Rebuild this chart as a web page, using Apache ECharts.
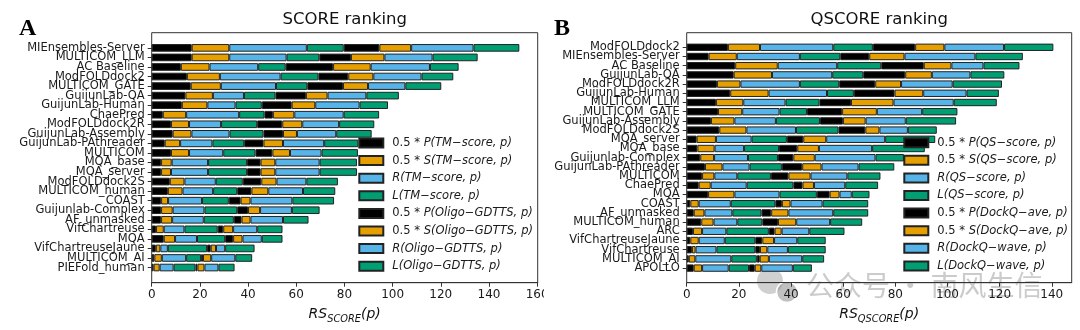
<!DOCTYPE html>
<html>
<head>
<meta charset="utf-8">
<script src="https://cdn.jsdelivr.net/npm/echarts@6/dist/echarts.min.js"></script>
<style>
  html, body { margin: 0; padding: 0; background: #fff; }
  #chart { width: 1080px; height: 330px; }
</style>
</head>
<body>
<div id="chart"></div>
<script>
// ---- Panel A: SCORE ranking (components per predictor) ----
const scoreModels = ['MIEnsembles-Server', 'MULTICOM_LLM', 'AC Baseline', 'ModFOLDdock2', 'MULTICOM_GATE',
  'GuijunLab-QA', 'GuijunLab-Human', 'ChaePred', 'ModFOLDdock2R', 'GuijunLab-Assembly', 'GuijunLab-PAthreader',
  'MULTICOM', 'MQA_base', 'MQA_server', 'ModFOLDdock2S', 'MULTICOM_human', 'COAST', 'Guijunlab-Complex',
  'AF_unmasked', 'VifChartreuse', 'MQA', 'VifChartreuseJaune', 'MULTICOM_AI', 'PIEFold_human'];
const scorePTm    = [16.6, 16.6, 12.1, 14.6, 16.2, 14.0, 12.5, 4.6, 8.0, 8.7, 5.4, 8.0, 3.9, 3.9, 7.5, 6.7, 3.9, 3.9, 3.9, 1.8, 5.0, 1.7, 1.1, 0.8];
const scoreSTm    = [15.6, 15.6, 11.9, 13.7, 12.5, 11.4, 10.6, 9.7, 7.5, 7.8, 6.4, 7.5, 4.4, 4.1, 6.1, 6.1, 2.9, 4.8, 4.6, 3.2, 4.7, 1.9, 3.1, 2.5];
const scoreRTm    = [32.2, 23.8, 20.2, 25.2, 22.9, 12.9, 11.7, 22.0, 13.3, 15.8, 13.4, 14.2, 15.1, 15.4, 13.0, 12.7, 14.1, 13.2, 13.1, 8.6, 9.1, 3.1, 10.1, 5.8];
const scoreLTm    = [15.3, 13.6, 11.4, 15.7, 13.0, 13.1, 10.9, 10.5, 15.0, 14.1, 13.2, 13.4, 16.2, 16.2, 11.2, 10.0, 11.1, 13.6, 12.5, 13.8, 11.7, 16.3, 6.2, 9.1];
const scorePOligo = [14.8, 13.1, 19.7, 12.4, 14.8, 12.6, 12.4, 3.5, 10.4, 8.1, 8.0, 7.0, 5.6, 5.6, 7.7, 5.9, 4.9, 4.5, 3.2, 2.3, 3.3, 1.5, 0.8, 0.8];
const scoreSOligo = [13.2, 13.9, 15.6, 10.4, 10.4, 9.0, 9.8, 8.9, 8.3, 5.8, 8.1, 7.3, 6.1, 6.1, 6.3, 7.0, 4.1, 5.0, 3.7, 4.1, 3.9, 2.2, 3.4, 2.9];
const scoreROligo = [25.9, 20.0, 24.6, 20.0, 15.5, 16.1, 18.4, 20.5, 15.3, 16.3, 17.1, 13.1, 18.4, 18.4, 12.4, 14.4, 17.4, 13.2, 13.5, 10.0, 8.0, 3.8, 10.0, 5.8];
const scoreLOligo = [19.0, 18.7, 11.9, 13.2, 14.9, 13.5, 11.8, 14.7, 14.6, 14.7, 14.2, 15.1, 15.5, 15.5, 13.1, 13.4, 17.3, 11.5, 10.6, 10.5, 8.6, 12.2, 7.0, 6.7];
const scoreLegend = ['0.5 * P(TM−score, p)', '0.5 * S(TM−score, p)', 'R(TM−score, p)', 'L(TM−score, p)',
  '0.5 * P(Oligo−GDTTS, p)', '0.5 * S(Oligo−GDTTS, p)', 'R(Oligo−GDTTS, p)', 'L(Oligo−GDTTS, p)'];
const scoreTicks = [0, 20, 40, 60, 80, 100, 120, 140, 160];

// ---- Panel B: QSCORE ranking ----
const qscoreModels = ['ModFOLDdock2', 'MIEnsembles-Server', 'AC Baseline', 'GuijunLab-QA', 'ModFOLDdock2R',
  'GuijunLab-Human', 'MULTICOM_LLM', 'MULTICOM_GATE', 'GuijunLab-Assembly', 'ModFOLDdock2S', 'MQA_server',
  'MQA_base', 'Guijunlab-Complex', 'GuijunLab-PAthreader', 'MULTICOM', 'ChaePred', 'MQA', 'COAST',
  'AF_unmasked', 'MULTICOM_human', 'ARC', 'VifChartreuseJaune', 'VifChartreuse', 'MULTICOM_AI', 'APOLLO'];
const qscorePQs    = [15.8, 8.4, 18.6, 18.0, 11.6, 16.7, 11.2, 12.0, 9.3, 12.5, 3.8, 4.1, 5.2, 7.0, 5.9, 4.6, 8.2, 1.4, 2.7, 5.6, 2.4, 1.4, 2.0, 0.8, 2.7];
const qscoreSQs    = [12.3, 10.8, 16.3, 14.7, 9.0, 14.7, 10.5, 9.3, 9.0, 10.4, 7.4, 6.6, 5.3, 6.7, 4.7, 4.6, 10.1, 3.2, 4.1, 4.7, 3.5, 3.2, 1.4, 2.5, 3.2];
const qscoreRQs    = [28.1, 24.2, 22.8, 23.1, 22.8, 22.4, 16.2, 14.3, 15.9, 19.0, 13.7, 11.3, 13.0, 10.4, 8.8, 13.8, 17.3, 12.3, 10.7, 9.1, 9.3, 10.0, 8.0, 13.8, 10.2];
const qscoreLQs    = [15.2, 15.5, 16.9, 11.9, 15.1, 10.3, 13.0, 10.5, 16.9, 16.3, 13.5, 13.4, 11.5, 12.4, 12.9, 17.9, 14.3, 17.1, 11.2, 9.6, 16.3, 11.7, 14.9, 9.8, 7.8];
const qscorePDockQ = [16.2, 11.1, 16.3, 16.1, 13.8, 15.6, 12.1, 13.5, 8.8, 10.3, 6.3, 7.0, 5.9, 7.8, 6.7, 3.5, 4.9, 2.5, 3.7, 6.0, 2.2, 2.7, 1.8, 1.1, 2.2];
const qscoreSDockQ = [11.2, 13.5, 10.6, 10.2, 9.9, 11.0, 16.3, 13.3, 8.7, 5.4, 8.8, 8.3, 8.2, 7.4, 8.5, 4.4, 3.8, 3.3, 6.6, 7.0, 2.7, 4.5, 2.8, 3.5, 2.5];
const qscoreRDockQ = [22.9, 27.2, 12.3, 14.8, 19.8, 16.6, 23.1, 17.4, 15.4, 10.9, 22.6, 20.4, 23.3, 14.2, 14.1, 12.0, 4.7, 12.3, 17.2, 13.0, 10.6, 8.9, 7.9, 12.8, 12.1];
const qscoreLDockQ = [18.9, 18.2, 13.8, 13.0, 18.9, 12.4, 16.5, 13.5, 19.3, 11.1, 19.2, 20.2, 10.9, 13.7, 12.7, 12.6, 6.8, 17.5, 13.4, 12.3, 13.5, 10.9, 14.5, 8.4, 7.3];
const qscoreLegend = ['0.5 * P(QS−score, p)', '0.5 * S(QS−score, p)', 'R(QS−score, p)', 'L(QS−score, p)',
  '0.5 * P(DockQ−ave, p)', '0.5 * S(DockQ−ave, p)', 'R(DockQ−wave, p)', 'L(DockQ−wave, p)'];
const qscoreTicks = [0, 20, 40, 60, 80, 100, 120, 140];

// ---- styling ----
const FONT = 'DejaVu Sans';
const INK = '#1a1a1a';
const SEG_COLORS = ['#000000', '#E69F00', '#56B4E9', '#009E73', '#000000', '#E69F00', '#56B4E9', '#009E73'];

const panels = [
  {
    models: scoreModels,
    parts: [scorePTm, scoreSTm, scoreRTm, scoreLTm, scorePOligo, scoreSOligo, scoreROligo, scoreLOligo],
    legend: scoreLegend, ticks: scoreTicks,
    left: 151.7, width: 386, barTop: 43.1, barHeight: 229.2,
    legendLeft: 358.3, legendTop: 136,
    title: 'SCORE ranking', sub: 'SCORE', letter: 'A', letterX: 19
  },
  {
    models: qscoreModels,
    parts: [qscorePQs, qscoreSQs, qscoreRQs, qscoreLQs, qscorePDockQ, qscoreSDockQ, qscoreRDockQ, qscoreLDockQ],
    legend: qscoreLegend, ticks: qscoreTicks,
    left: 686.7, width: 385, barTop: 42.7, barHeight: 230,
    legendLeft: 903.3, legendTop: 135.7,
    title: 'QSCORE ranking', sub: 'QSCORE', letter: 'B', letterX: 554
  }
];
const FRAME_TOP = 32.7, FRAME_H = 250;

const grid = [], xAxis = [], yAxis = [], series = [], legend = [], graphic = [];

function legendLabel(name) {
  if (name.startsWith('0.5 * ')) return '{u|0.5 * }{i|' + name.slice(6) + '}';
  return '{i|' + name + '}';
}

panels.forEach((p, k) => {
  // axis upper limit with 5% margin beyond the longest bar
  const totals = p.models.map((_, i) => p.parts.reduce((s, arr) => s + arr[i], 0));
  const xMax = Math.max(...totals) * 1.05;

  // frame grid carrying the value axis
  grid.push({ left: p.left, top: FRAME_TOP, width: p.width, height: FRAME_H,
    show: true, borderColor: '#333', borderWidth: 1, backgroundColor: 'transparent' });
  // inner grid carrying the bars and category axis
  grid.push({ left: p.left, top: p.barTop, width: p.width, height: p.barHeight });

  const fg = 2 * k, bg = 2 * k + 1;
  xAxis.push({
    gridIndex: fg, type: 'value', min: 0, max: xMax, interval: 20,
    axisLine: { show: true, lineStyle: { color: '#333', width: 1 } },
    axisTick: { show: true, length: 4, lineStyle: { color: '#333' } },
    axisLabel: { fontFamily: FONT, fontSize: 12, color: INK, margin: 6, showMaxLabel: false,
      formatter: v => (p.ticks.includes(v) ? String(v) : '') },
    splitLine: { show: false }
  });
  xAxis.push({ gridIndex: bg, type: 'value', min: 0, max: xMax, show: false });
  yAxis.push({ gridIndex: fg, type: 'value', min: 0, max: 1, show: false });
  yAxis.push({
    gridIndex: bg, type: 'category', data: p.models, inverse: true,
    axisLine: { show: false },
    axisTick: { show: true, alignWithLabel: true, length: 4, lineStyle: { color: '#333' } },
    axisLabel: { fontFamily: FONT, fontSize: 11.5, color: INK, margin: 7, interval: 0 },
    splitLine: { show: false }
  });

  p.parts.forEach((arr, j) => {
    series.push({
      type: 'bar', name: p.legend[j], xAxisIndex: bg, yAxisIndex: bg,
      stack: 'panel' + k, data: arr, barWidth: '80%',
      itemStyle: { color: SEG_COLORS[j], borderColor: '#222', borderWidth: 1 },
      emphasis: { disabled: true }, animation: false
    });
  });

  legend.push({
    data: p.legend, orient: 'vertical', left: p.legendLeft, top: p.legendTop,
    itemWidth: 24, itemHeight: 9, itemGap: 3.6, padding: 0, icon: 'rect', selectedMode: false,
    formatter: legendLabel,
    textStyle: {
      fontFamily: FONT, fontSize: 11.5, color: INK, lineHeight: 14, padding: [0, 0, 0, 4],
      rich: {
        u: { fontFamily: FONT, fontSize: 11.5, color: INK, lineHeight: 14 },
        i: { fontFamily: FONT, fontSize: 11.5, color: INK, fontStyle: 'italic', lineHeight: 14 }
      }
    }
  });

  const cx = p.left + p.width / 2;
  graphic.push({
    type: 'text', x: cx, y: 20, z: 50,
    style: { text: p.title, font: '16.5px "DejaVu Sans"', fill: '#111',
      align: 'center', verticalAlign: 'middle', textAlign: 'center', textVerticalAlign: 'middle' }
  });
  graphic.push({
    type: 'text', x: cx, y: 314.5, z: 50,
    style: {
      text: '{m|RS}{s|' + p.sub + '}{m|(p)}', fill: '#111',
      align: 'center', verticalAlign: 'middle', textAlign: 'center', textVerticalAlign: 'middle',
      rich: {
        m: { fontFamily: FONT, fontSize: 14, fontStyle: 'italic', lineHeight: 20, fill: '#111' },
        s: { fontFamily: FONT, fontSize: 9.8, fontStyle: 'italic', lineHeight: 14, verticalAlign: 'bottom', fill: '#111' }
      }
    }
  });
  graphic.push({
    type: 'text', x: p.letterX, y: 28.7, z: 50,
    style: { text: p.letter, font: 'bold 24px "Liberation Serif"', fill: '#000',
      align: 'left', verticalAlign: 'middle', textAlign: 'left', textVerticalAlign: 'middle' }
  });
});

// right edge of the left figure trims its last tick label
graphic.push({ type: 'rect', z: 60, shape: { x: 544, y: 285, width: 8, height: 18 }, style: { fill: '#fff' } });

// account watermark
graphic.push({
  type: 'group', z: 70, children: [
    { type: 'circle', shape: { cx: 770, cy: 281, r: 13 }, style: { fill: 'rgba(170,170,170,0.55)' } },
    { type: 'circle', shape: { cx: 787, cy: 292, r: 10.5 }, style: { fill: 'rgba(150,150,150,0.6)', stroke: '#fff', lineWidth: 1.5 } },
    { type: 'text', x: 806, y: 285,
      style: { text: '公众号 · 南风生信', font: '28px "Noto Sans CJK SC"', fill: 'rgba(160,160,160,0.55)',
        align: 'left', verticalAlign: 'middle', textAlign: 'left', textVerticalAlign: 'middle' } }
  ]
});

const chart = echarts.init(document.getElementById('chart'), null, { renderer: 'canvas' });
chart.setOption({
  animation: false,
  backgroundColor: '#fff',
  grid, xAxis, yAxis, series, legend, graphic
});
</script>
</body>
</html>
